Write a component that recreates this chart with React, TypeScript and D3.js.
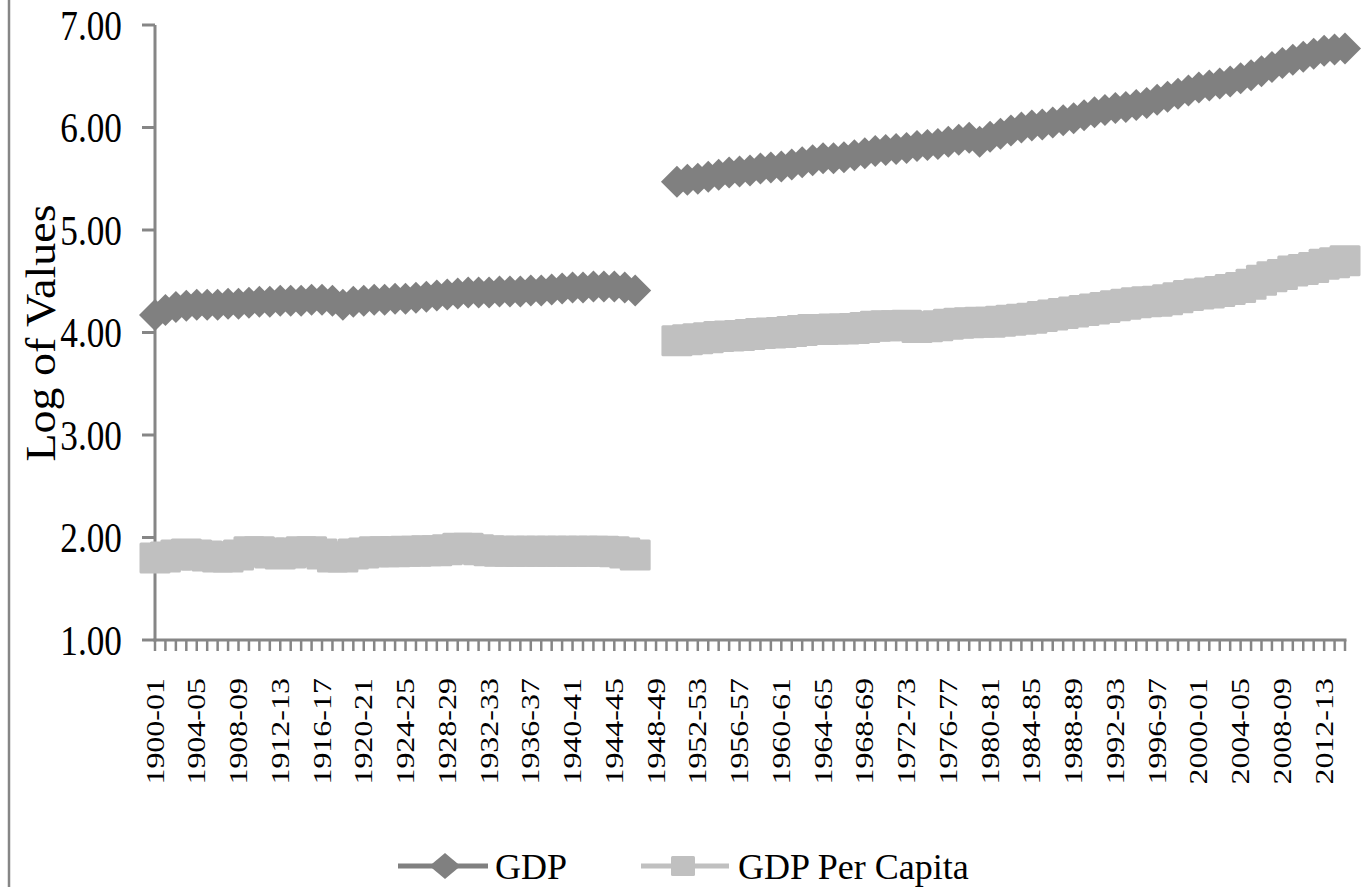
import React from "react";
import * as d3 from "d3";

const startYears: number[] = d3.range(1900, 2015);
const categories: string[] = startYears.map(
  (y) => `${y}-${String((y + 1) % 100).padStart(2, "0")}`
);

const gdp: (number | null)[] = [
  4.17, 4.22, 4.25, 4.26, 4.27, 4.27, 4.27, 4.28, 4.28, 4.29,
  4.30, 4.30, 4.31, 4.31, 4.31, 4.32, 4.32, 4.31, 4.27, 4.30,
  4.31, 4.32, 4.32, 4.33, 4.33, 4.34, 4.35, 4.36, 4.37, 4.38,
  4.39, 4.39, 4.39, 4.40, 4.40, 4.40, 4.41, 4.41, 4.42, 4.43,
  4.44, 4.44, 4.45, 4.45, 4.45, 4.44, 4.41,
  null, null, null,
  5.47, 5.49, 5.50, 5.52, 5.54, 5.56, 5.57, 5.58, 5.60, 5.61,
  5.62, 5.64, 5.66, 5.68, 5.70, 5.70, 5.71, 5.73, 5.75, 5.77,
  5.78, 5.79, 5.80, 5.82, 5.83, 5.84, 5.86, 5.88, 5.90, 5.86,
  5.91, 5.94, 5.97, 6.00, 6.02, 6.03, 6.05, 6.07, 6.09, 6.12,
  6.15, 6.17, 6.19, 6.20, 6.22, 6.24, 6.27, 6.30, 6.33, 6.36,
  6.39, 6.41, 6.43, 6.45, 6.48, 6.51, 6.55, 6.59, 6.63, 6.66,
  6.69, 6.72, 6.75, 6.76, 6.77,
];

const gdpPerCapita: (number | null)[] = [
  1.80, 1.81, 1.83, 1.84, 1.83, 1.82, 1.81, 1.81, 1.83, 1.86,
  1.86, 1.85, 1.84, 1.85, 1.86, 1.86, 1.84, 1.81, 1.81, 1.84,
  1.85, 1.86, 1.86, 1.86, 1.865, 1.865, 1.87, 1.87, 1.88, 1.895,
  1.895, 1.88, 1.87, 1.865, 1.865, 1.865, 1.865, 1.865, 1.865, 1.865,
  1.865, 1.865, 1.865, 1.865, 1.86, 1.85, 1.83,
  null, null, null,
  3.92, 3.93, 3.94, 3.95, 3.96, 3.965, 3.97, 3.98, 3.99, 3.995,
  4.00, 4.01, 4.02, 4.03, 4.03, 4.035, 4.035, 4.04, 4.05, 4.06,
  4.065, 4.065, 4.07, 4.05, 4.055, 4.065, 4.08, 4.09, 4.095, 4.10,
  4.10, 4.11, 4.12, 4.13, 4.14, 4.155, 4.17, 4.185, 4.20, 4.215,
  4.23, 4.245, 4.26, 4.275, 4.29, 4.30, 4.305, 4.32, 4.34, 4.36,
  4.375, 4.385, 4.40, 4.42, 4.44, 4.47, 4.51, 4.545, 4.565, 4.60,
  4.615, 4.635, 4.665, 4.68, 4.70,
];

const yTicks: number[] = [1, 2, 3, 4, 5, 6, 7];
const seriesNames: string[] = ["GDP", "GDP Per Capita"];

const W = 1361;
const H = 887;
const FONT = "'Liberation Serif', 'Times New Roman', serif";
const AXIS = "#868686";
const C_GDP = "#808080";
const C_PC = "#C0C0C0";

export default function App() {
  const x = d3.scalePoint<string>().domain(categories).range([155, 1345]).padding(0);
  const y = d3.scaleLinear().domain([1, 7]).range([640, 25]);

  const line = d3
    .line<number | null>()
    .defined((d) => d != null)
    .x((_, i) => x(categories[i]) as number)
    .y((d) => y(d as number));

  const diamond = (cx: number, cy: number, rx: number, ry: number) =>
    `M${cx},${cy - ry}L${cx + rx},${cy}L${cx},${cy + ry}L${cx - rx},${cy}Z`;

  const DR = 16; // diamond half-diagonal
  const SQ = 15.5; // square half-side
  const LY = 866; // legend centre line

  return (
    <svg
      width={W}
      height={H}
      style={{ position: "absolute", left: 0, top: 0, background: "#fff" }}
      fontFamily={FONT}
    >
      <rect x={0} y={0} width={W} height={H} fill="#fff" />
      {/* left border of chart area */}
      <line x1={9} y1={0} x2={9} y2={H} stroke={AXIS} strokeWidth={2.5} />

      {/* y axis */}
      <line x1={155} y1={y(7)} x2={155} y2={y(1) + 1.5} stroke={AXIS} strokeWidth={3} />
      {yTicks.map((t) => (
        <g key={t}>
          <line x1={142} x2={155} y1={y(t)} y2={y(t)} stroke={AXIS} strokeWidth={3} />
          <text
            transform={`translate(122,${y(t)}) scale(0.84,1)`}
            dy="0.35em"
            textAnchor="end"
            fontSize={42}
            fill="#000"
          >
            {d3.format(".2f")(t)}
          </text>
        </g>
      ))}

      {/* x axis */}
      <line x1={153.5} x2={1346.5} y1={640} y2={640} stroke={AXIS} strokeWidth={3} />
      {categories.map((c) => (
        <line
          key={c}
          x1={x(c)}
          x2={x(c)}
          y1={640}
          y2={651}
          stroke={AXIS}
          strokeWidth={2.5}
        />
      ))}
      {categories.map((c, i) =>
        i % 4 === 0 ? (
          <text
            key={"l" + c}
            transform={`translate(${x(c)},678) rotate(-90) scale(1,0.76)`}
            dy="0.35em"
            textAnchor="end"
            fontSize={32}
            fill="#000"
          >
            {c}
          </text>
        ) : null
      )}

      {/* y title */}
      <text
        transform={`translate(55,333) rotate(-90) scale(1,0.9)`}
        textAnchor="middle"
        fontSize={46}
        fill="#000"
      >
        Log of Values
      </text>

      {/* GDP series */}
      <path d={line(gdp) || ""} fill="none" stroke={C_GDP} strokeWidth={5} />
      {gdp.map((v, i) =>
        v == null ? null : (
          <path
            key={"g" + i}
            d={diamond(x(categories[i]) as number, y(v), DR, DR)}
            fill={C_GDP}
          />
        )
      )}

      {/* GDP per capita series */}
      <path d={line(gdpPerCapita) || ""} fill="none" stroke={C_PC} strokeWidth={5} />
      {gdpPerCapita.map((v, i) =>
        v == null ? null : (
          <rect
            key={"p" + i}
            x={(x(categories[i]) as number) - SQ}
            y={y(v) - SQ}
            width={SQ * 2}
            height={SQ * 2}
            rx={1.5}
            fill={C_PC}
          />
        )
      )}

      {/* legend */}
      <g>
        <line x1={398} x2={488} y1={LY} y2={LY} stroke={C_GDP} strokeWidth={5} />
        <path d={diamond(445, LY, 15.5, 13)} fill={C_GDP} />
        <text x={495} y={LY} dy="0.35em" fontSize={36} fill="#000">
          {seriesNames[0]}
        </text>
        <line x1={641} x2={729} y1={LY} y2={LY} stroke={C_PC} strokeWidth={5} />
        <rect x={683 - 12} y={LY - 10} width={24} height={20} rx={1.5} fill={C_PC} />
        <text x={738} y={LY} dy="0.35em" fontSize={36} fill="#000">
          {seriesNames[1]}
        </text>
      </g>
    </svg>
  );
}
